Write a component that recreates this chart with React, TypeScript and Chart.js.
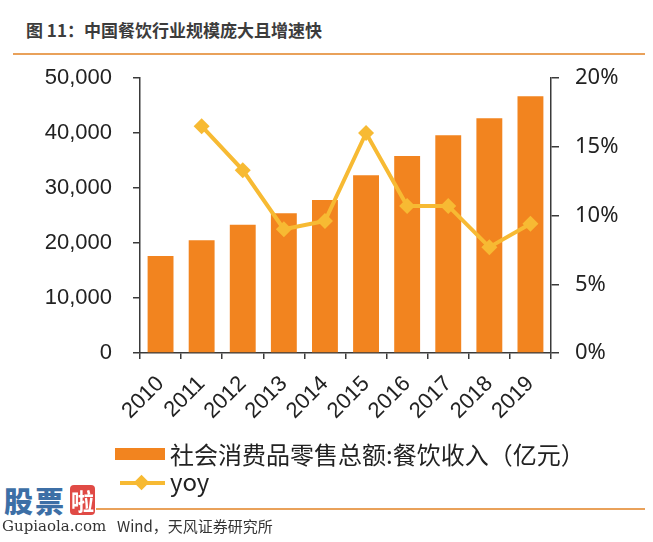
import React, { useEffect, useRef } from "react";
import { Chart, registerables } from "chart.js";
Chart.register(...registerables);

const years = ["2010", "2011", "2012", "2013", "2014", "2015", "2016", "2017", "2018", "2019"];
const revenue = [17640, 20500, 23300, 25400, 27800, 32300, 35800, 39600, 42700, 46700];
const yoy: (number | null)[] = [null, 16.5, 13.3, 9.0, 9.6, 16.0, 10.7, 10.7, 7.7, 9.4];
const leftMax = 50000;
const leftStep = 10000;
const rightMax = 20;
const rightStep = 5;

const titleText = "图 11：中国餐饮行业规模庞大且增速快";
const barLabel = "社会消费品零售总额:餐饮收入（亿元）";
const lineLabel = "yoy";
const sourceText = "Wind，天风证券研究所";

const BAR = "#F2841F";
const LINE = "#F7BA33";
const ACCENT = "#E9A15A";
const AXIS = "#3a3a3a";

export default function App() {
  const ref = useRef<HTMLCanvasElement>(null);
  useEffect(() => {
    document.body.style.margin = "0";
    const chart = new Chart(ref.current as HTMLCanvasElement, {
      type: "bar",
      data: {
        labels: years,
        datasets: [
          {
            type: "line",
            label: lineLabel,
            data: yoy,
            yAxisID: "y1",
            borderColor: LINE,
            backgroundColor: LINE,
            borderWidth: 4,
            pointStyle: "rectRot",
            pointRadius: 8,
            pointBorderWidth: 0,
            tension: 0,
            order: 0,
          } as any,
          {
            type: "bar",
            label: barLabel,
            data: revenue,
            yAxisID: "y",
            backgroundColor: BAR,
            barPercentage: 0.63,
            categoryPercentage: 1,
            order: 1,
          },
        ],
      },
      options: {
        animation: false,
        responsive: false,
        layout: { padding: { top: 18, left: 0, right: 0, bottom: 0 } },
        plugins: { legend: { display: false }, tooltip: { enabled: false } },
        scales: {
          x: {
            offset: true,
            grid: { offset: true, drawOnChartArea: false, drawTicks: true, tickLength: 6, color: AXIS, lineWidth: 1.5 },
            border: { color: AXIS, width: 1.5 },
            ticks: {
              autoSkip: false,
              minRotation: 45,
              maxRotation: 45,
              font: { family: "'Liberation Sans', Arial, sans-serif", size: 22 },
              color: "#222",
              padding: 12,
            },
            afterFit: (s: any) => {
              s.height = 87;
              s.paddingLeft = 0;
              s.paddingRight = 0;
              s.paddingTop = 0;
              s.paddingBottom = 0;
            },
          },
          y: {
            position: "left",
            min: 0,
            max: leftMax,
            grid: { drawOnChartArea: false, tickLength: 7, color: AXIS, lineWidth: 1.5 },
            border: { color: AXIS, width: 1.5 },
            ticks: {
              stepSize: leftStep,
              callback: (v: any) => Number(v).toLocaleString("en-US"),
              font: { family: "'Liberation Sans', Arial, sans-serif", size: 22 },
              color: "#222",
              padding: 21,
            },
            afterFit: (s: any) => {
              s.width = 140;
              s.paddingTop = 0;
              s.paddingBottom = 0;
            },
          },
          y1: {
            position: "right",
            min: 0,
            max: rightMax,
            grid: { drawOnChartArea: false, tickLength: 8, color: AXIS, lineWidth: 1.5 },
            border: { color: AXIS, width: 1.5 },
            ticks: {
              stepSize: rightStep,
              callback: (v: any) => `${v}%`,
              font: { family: "'Noto Sans', sans-serif", size: 22 },
              color: "#222",
              padding: 16,
            },
            afterFit: (s: any) => {
              s.width = 102;
              s.paddingTop = 0;
              s.paddingBottom = 0;
            },
          },
        },
      },
    });
    return () => chart.destroy();
  }, []);

  const cjk = "'Noto Sans CJK SC', 'Noto Sans', sans-serif";
  return (
    <div style={{ position: "relative", width: 653, height: 542, background: "#fff", overflow: "hidden" }}>
      <div
        style={{
          position: "absolute",
          left: 26,
          top: 18,
          fontFamily: cjk,
          fontWeight: 700,
          fontSize: 17,
          lineHeight: "24px",
          color: "#3c3c3c",
          whiteSpace: "nowrap",
        }}
      >
        {titleText}
      </div>
      <div style={{ position: "absolute", left: 13, top: 53, width: 632, height: 2, background: ACCENT }} />
      <canvas ref={ref} width={653} height={380} style={{ position: "absolute", left: 0, top: 60, width: 653, height: 380 }} />
      {/* legend */}
      <div style={{ position: "absolute", left: 115, top: 448, width: 50, height: 12, background: BAR }} />
      <div
        style={{
          position: "absolute",
          left: 170,
          top: 438,
          fontFamily: cjk,
          fontSize: 24,
          lineHeight: "32px",
          color: "#222",
          whiteSpace: "nowrap",
        }}
      >
        {barLabel}
      </div>
      <div style={{ position: "absolute", left: 120, top: 481, width: 45, height: 4, background: LINE }} />
      <div
        style={{
          position: "absolute",
          left: 136,
          top: 477,
          width: 11,
          height: 11,
          background: LINE,
          transform: "rotate(45deg)",
        }}
      />
      <div
        style={{
          position: "absolute",
          left: 170,
          top: 465,
          fontFamily: cjk,
          fontSize: 24,
          lineHeight: "32px",
          color: "#222",
          whiteSpace: "nowrap",
        }}
      >
        {lineLabel}
      </div>
      <div style={{ position: "absolute", left: 96, top: 508, width: 549, height: 2, background: ACCENT }} />
      {/* watermark */}
      <div
        style={{
          position: "absolute",
          left: 4,
          top: 484,
          fontFamily: cjk,
          fontWeight: 900,
          fontSize: 29,
          lineHeight: "32px",
          color: "#3d6fa6",
          whiteSpace: "nowrap",
          letterSpacing: 2,
        }}
      >
        股票
      </div>
      <div
        style={{
          position: "absolute",
          left: 70,
          top: 485,
          width: 25,
          height: 30,
          background: "#e04a45",
          borderRadius: 4,
          color: "#fff",
          fontFamily: cjk,
          fontWeight: 700,
          fontSize: 23,
          lineHeight: "30px",
          textAlign: "center",
        }}
      >
        啦
      </div>
      <div
        style={{
          position: "absolute",
          left: 2,
          top: 516,
          fontFamily: "'DejaVu Serif', 'Liberation Serif', serif",
          fontSize: 15,
          lineHeight: "20px",
          color: "#333",
          whiteSpace: "nowrap",
        }}
      >
        Gupiaola.com
      </div>
      <div
        style={{
          position: "absolute",
          left: 117,
          top: 515,
          fontFamily: cjk,
          fontSize: 15,
          lineHeight: "22px",
          color: "#333",
          whiteSpace: "nowrap",
        }}
      >
        {sourceText}
      </div>
    </div>
  );
}
